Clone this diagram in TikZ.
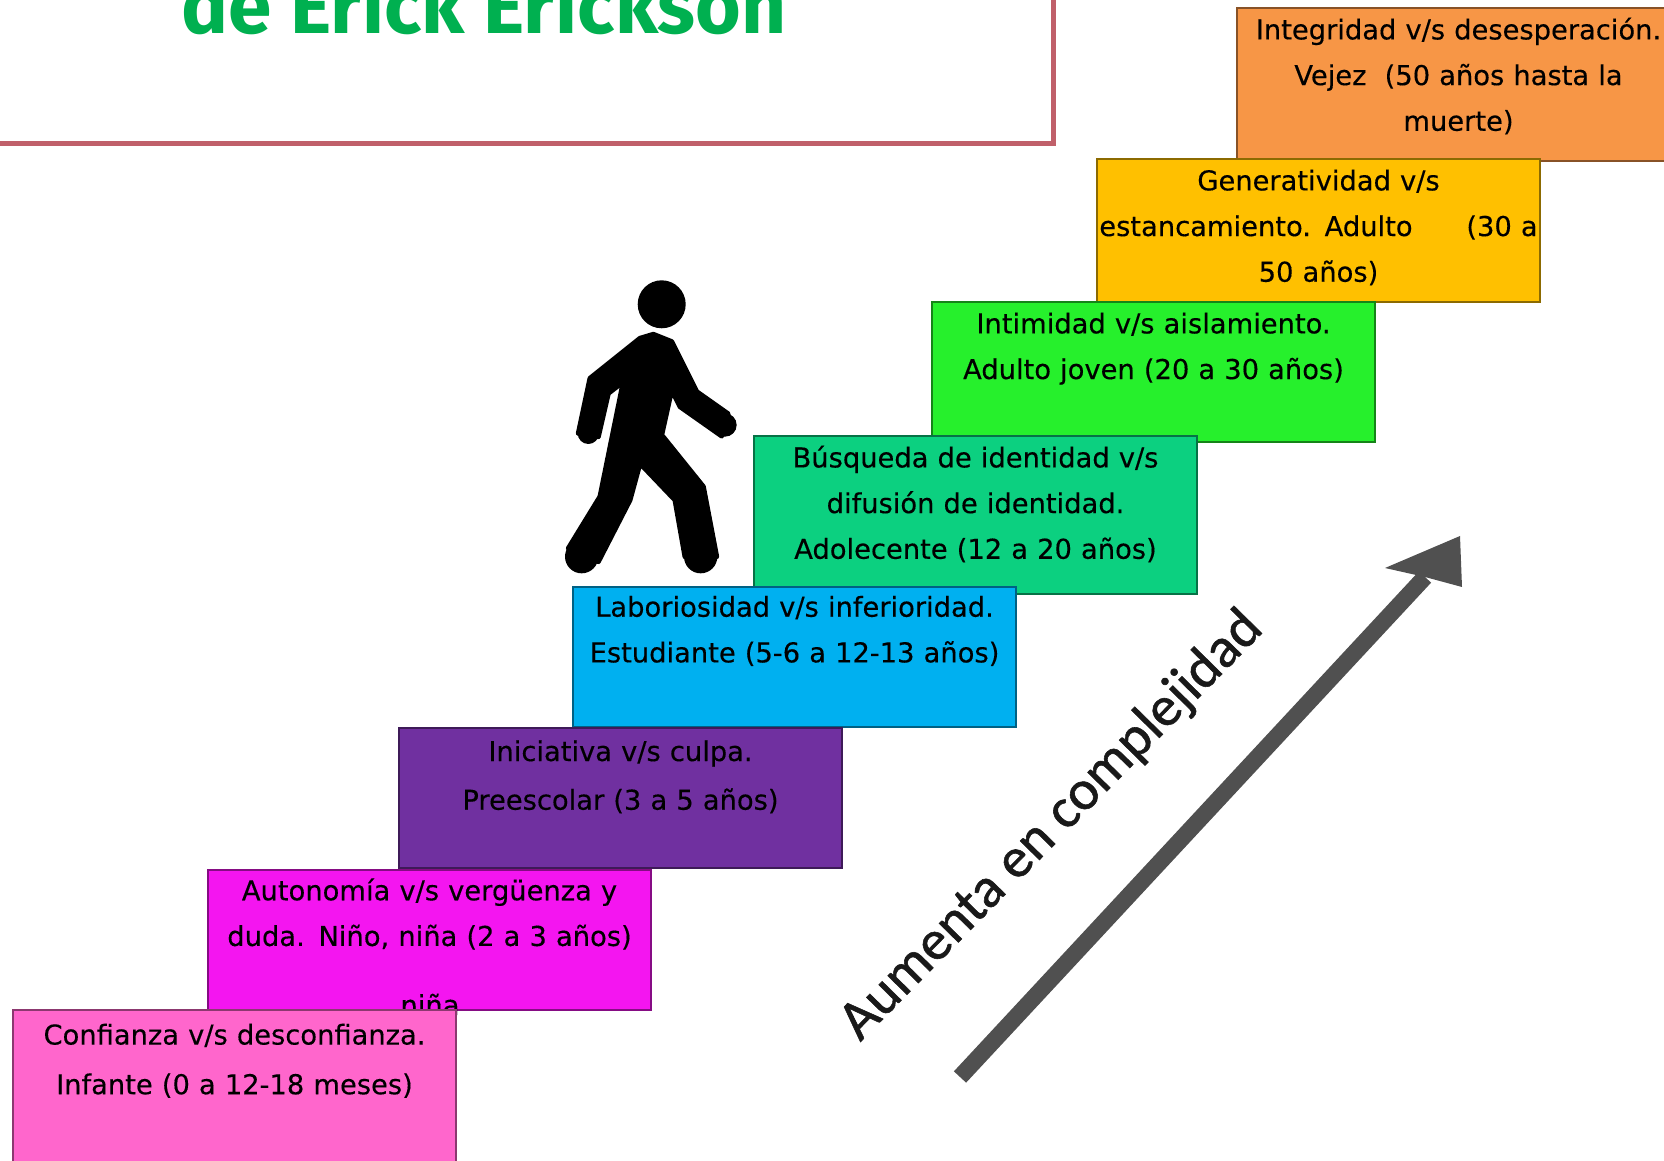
\documentclass[tikz,border=0pt]{standalone}
\usepackage{fontspec}
\setmainfont[FakeBold=0.3]{DejaVu Sans}
\newfontfamily\titulofont{Fira Sans}
\newfontfamily\carlitofont[FakeBold=1]{Carlito}
\definecolor{rosado}{HTML}{FF66CC}
\definecolor{magenta2}{HTML}{F415F0}
\definecolor{morado}{HTML}{7030A0}
\definecolor{celeste}{HTML}{00B0F0}
\definecolor{jade}{HTML}{0CD080}
\definecolor{verde}{HTML}{26F02C}
\definecolor{ambar}{HTML}{FFC000}
\definecolor{naranjo}{HTML}{F79646}
\definecolor{marco}{HTML}{C0606A}
\definecolor{titulo}{HTML}{00B050}
\definecolor{flecha}{HTML}{505050}
\tikzset{
        stairbox/.style={draw=#1!55!black, fill=#1, line width=1pt, anchor=north west,
                minimum width=266pt, minimum height=84pt, inner sep=0pt, text width=263pt,
                align=center, text=black, font=\fontsize{16.4}{27.4}\selectfont}
}
\begin{document}
\begin{tikzpicture}[x=.6pt,y=-.6pt]
        \path[use as bounding box,clip] (0,0) rectangle (1664,1161);

        \node (titulo) at (484,34) [anchor=base, text=titulo, font=\titulofont\fontsize{47}{47}\selectfont\bfseries] {de Erick Erickson};
        \draw[marco, line width=3pt] (-10,-10) rectangle (1053,144);

        \node (vejez) at (1236,7) [stairbox=naranjo, minimum height=92pt] {Integridad v/s desesperación.\\Vejez\ \ (50 años hasta la\\muerte)\\[-15pt]~};
        \node (adulto) at (1096,158) [stairbox=ambar, minimum height=86pt] {Generatividad v/s\\estancamiento. Adulto\hfill(30 a\\50 años)\\[-21.6pt]~};
        \node (joven) at (931,301) [stairbox=verde] {Intimidad v/s aislamiento.\\Adulto joven (20 a 30 años)\\[3.8pt]~};
        \node (adolecente) at (753,435) [stairbox=jade, minimum height=95pt] {Búsqueda de identidad v/s\\difusión de identidad.\\Adolecente (12 a 20 años)\\[-12pt]~};
        \node (estudiante) at (572,586) [stairbox=celeste] {Laboriosidad v/s inferioridad.\\Estudiante (5-6 a 12-13 años)\\[5.8pt]~};
        \node (preescolar) at (398,727) [stairbox=morado] {Iniciativa v/s culpa.\\[1.8pt]Preescolar (3 a 5 años)\\~};
        \node (nino) at (207,869) [stairbox=magenta2] {Autonomía v/s vergüenza y\\duda. Niño, niña (2 a 3 años)\\[5.8pt]~};
        \node (ninatxt) at (430,1015) [anchor=base, text=black, font=\fontsize{16.4}{27.4}\selectfont] {niña};
        \node (infante) at (12,1009) [stairbox=rosado, minimum height=105pt] {Confianza v/s desconfianza.\\[2.4pt]Infante (0 a 12-18 meses)\\[18.6pt]~};

        \fill (661.7,304.3) circle (14.4pt);
        \begin{scope}[shift={(540,270)},x=.2pt,y=-.2pt]
                \filldraw[line width=3pt, line join=round] (340,193) -- (395,215) -- (470,365) -- (565,432) -- (545,498) -- (420,410) -- (395,360) -- (365,495) -- (490,650) -- (530,860) -- (435,860) -- (405,690) -- (300,580) -- (270,690) -- (175,875) -- (85,835) -- (180,680) -- (250,335) -- (205,370) -- (175,500) -- (115,490) -- (150,325) -- (300,205) -- cycle;
                \fill (555,465) circle (7pt);
                \fill (482,860) circle (10pt);
                \fill (125,860) circle (10pt);
                \fill (145,490) circle (6.4pt);
        \end{scope}

        \coordinate (colaflecha) at (960,1077);
        \coordinate (puntaflecha) at (1460,536);
        \coordinate (alaizq) at (1385,568);
        \coordinate (alader) at (1462,587);
        \coordinate (muesca) at (1425,577);
        \draw[flecha, line width=10pt] (colaflecha) -- (muesca);
        \fill[flecha] (puntaflecha) -- (alaizq) -- (muesca) -- (alader) -- cycle;
        \node (complejidad) at (1052,826) [rotate=45.5, font=\carlitofont\fontsize{34}{34}\selectfont, text=black!90] {Aumenta en complejidad};
\end{tikzpicture}
\end{document}
